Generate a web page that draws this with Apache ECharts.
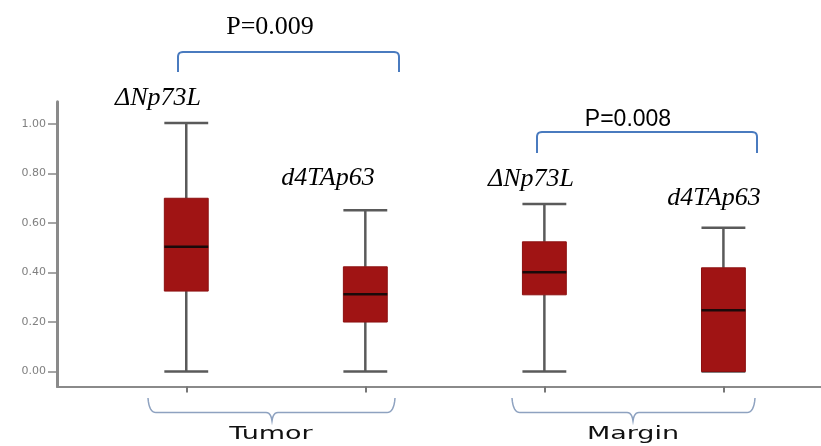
<!DOCTYPE html>
<html>
<head>
<meta charset="utf-8">
<script src="https://cdn.jsdelivr.net/npm/echarts@6/dist/echarts.min.js"></script>
<style>html,body{margin:0;padding:0;background:#fff}#c{width:821px;height:446px}</style>
</head>
<body>
<div id="c"></div>
<script>
// ---- data ----
var groups = ['Tumor', 'Margin'];
var markers = ['ΔNp73L', 'd4TAp63', 'ΔNp73L', 'd4TAp63'];
var positions = [1, 2, 3, 4];
var mins    = [0.00, 0.00, 0.00, 0.00];
var q1s     = [0.325, 0.200, 0.310, 0.000];
var medians = [0.504, 0.312, 0.401, 0.248];
var q3s     = [0.700, 0.423, 0.524, 0.419];
var maxs    = [1.004, 0.652, 0.677, 0.581];
var yTicks  = [0, 0.2, 0.4, 0.6, 0.8, 1.0];
var pValues = ['P=0.009', 'P=0.008'];

var boxData = positions.map(function (p, i) {
  return [p, mins[i], q1s[i], medians[i], q3s[i], maxs[i]];
});

var chart = echarts.init(document.getElementById('c'));

function renderBox(params, api) {
  var x = api.value(0);
  var lo = api.coord([x, api.value(1)]);
  var q1 = api.coord([x, api.value(2)]);
  var md = api.coord([x, api.value(3)]);
  var q3 = api.coord([x, api.value(4)]);
  var hi = api.coord([x, api.value(5)]);
  var w = api.size([0.245, 0])[0];
  var cx = lo[0];
  var wStyle = { stroke: '#5a5a5a', lineWidth: 2.5 };
  return {
    type: 'group',
    children: [
      { type: 'line', shape: { x1: cx, y1: lo[1], x2: cx, y2: q1[1] }, style: wStyle },
      { type: 'line', shape: { x1: cx, y1: q3[1], x2: cx, y2: hi[1] }, style: wStyle },
      { type: 'line', shape: { x1: cx - w / 2, y1: lo[1], x2: cx + w / 2, y2: lo[1] }, style: wStyle },
      { type: 'line', shape: { x1: cx - w / 2, y1: hi[1], x2: cx + w / 2, y2: hi[1] }, style: wStyle },
      { type: 'rect', shape: { x: cx - w / 2, y: q3[1], width: w, height: q1[1] - q3[1] },
        style: { fill: '#a01414', stroke: '#8c1010', lineWidth: 1 } },
      { type: 'line', shape: { x1: cx - w / 2, y1: md[1], x2: cx + w / 2, y2: md[1] },
        style: { stroke: '#1a0a0a', lineWidth: 2.5 } }
    ]
  };
}

var serif = '"Liberation Serif", "Times New Roman", serif';
var sans = '"Liberation Sans", Arial, sans-serif';

function txt(text, x, y, font, size, italic) {
  return { type: 'text', x: x, y: y, z: 10,
    style: { text: text, fill: '#000', font: (italic ? 'italic ' : '') + size + 'px ' + font,
      align: 'center', verticalAlign: 'middle' } };
}
// quadratic curve sampled into points
function quad(p0, c, p1, n) {
  var pts = [];
  for (var i = 1; i <= n; i++) {
    var t = i / n, u = 1 - t;
    pts.push([u * u * p0[0] + 2 * u * t * c[0] + t * t * p1[0],
              u * u * p0[1] + 2 * u * t * c[1] + t * t * p1[1]]);
  }
  return pts;
}
function topBracket(x0, x1, yTop, yEnd, color) {
  var r = 5;
  var pts = [[x0, yEnd], [x0, yTop + r]];
  pts = pts.concat(quad([x0, yTop + r], [x0, yTop], [x0 + r, yTop], 6));
  pts.push([x1 - r, yTop]);
  pts = pts.concat(quad([x1 - r, yTop], [x1, yTop], [x1, yTop + r], 6));
  pts.push([x1, yEnd]);
  return { type: 'polyline', z: 10, shape: { points: pts },
    style: { fill: null, stroke: color, lineWidth: 2 } };
}
function brace(x0, xm, x1, yTop, yMid, yTip, color) {
  var pts = [[x0, yTop]];
  pts = pts.concat(quad([x0, yTop], [x0 + 1, yMid], [x0 + 8, yMid], 8));
  pts.push([xm - 6, yMid]);
  pts = pts.concat(quad([xm - 6, yMid], [xm - 1, yMid], [xm, yTip], 6));
  pts = pts.concat(quad([xm, yTip], [xm + 1, yMid], [xm + 6, yMid], 6));
  pts.push([x1 - 8, yMid]);
  pts = pts.concat(quad([x1 - 8, yMid], [x1 - 1, yMid], [x1, yTop], 8));
  return { type: 'polyline', z: 10, shape: { points: pts },
    style: { fill: null, stroke: color, lineWidth: 1.5 } };
}
function groupLabel(text, x) {
  return { type: 'text', x: x, y: 434, z: 10, scaleX: 1.5,
    style: { text: text, fill: '#111', font: '18px "DejaVu Sans", sans-serif',
      align: 'center', verticalAlign: 'middle' } };
}

chart.setOption({
  animation: false,
  grid: { left: 57, right: 0, top: 101.7, bottom: 59.6 },
  xAxis: {
    type: 'value', min: 0.278, max: 4.545,
    splitLine: { show: false },
    axisLine: { onZero: false, lineStyle: { color: '#8a8a8a', width: 2 } },
    axisTick: { show: true, customValues: positions, length: 6, lineStyle: { color: '#777', width: 2 } },
    axisLabel: { show: false }
  },
  yAxis: {
    type: 'value', min: -0.06, max: 1.09,
    splitLine: { show: false },
    axisLine: { show: true, onZero: false, lineStyle: { color: '#8a8a8a', width: 3 } },
    axisTick: { show: true, customValues: yTicks, length: 9, lineStyle: { color: '#888', width: 1.5 } },
    axisLabel: { customValues: yTicks, margin: 11, color: '#808080', fontSize: 11,
      fontFamily: '"DejaVu Sans", sans-serif',
      formatter: function (v) { return v.toFixed(2); } }
  },
  series: [{
    type: 'custom', clip: false, renderItem: renderBox,
    encode: { x: 0, y: [1, 2, 3, 4, 5] },
    data: boxData
  }],
  graphic: [
    txt(pValues[0], 270, 27, serif, 26, false),
    topBracket(178, 399, 52, 72, '#4a7bbf'),
    txt(markers[0], 158, 98, serif, 26, true),
    txt(markers[1], 328, 178, serif, 26, true),
    txt(pValues[1], 628, 120, sans, 23, false),
    topBracket(537, 757, 132, 153, '#4a7bbf'),
    txt(markers[2], 531, 179, serif, 26, true),
    txt(markers[3], 714, 198, serif, 26, true),
    brace(148, 272, 395, 398, 412.5, 421, '#8ea2c0'),
    brace(512, 633, 755, 398, 412.5, 421, '#8ea2c0'),
    groupLabel(groups[0], 271),
    groupLabel(groups[1], 633)
  ]
});
</script>
</body>
</html>
